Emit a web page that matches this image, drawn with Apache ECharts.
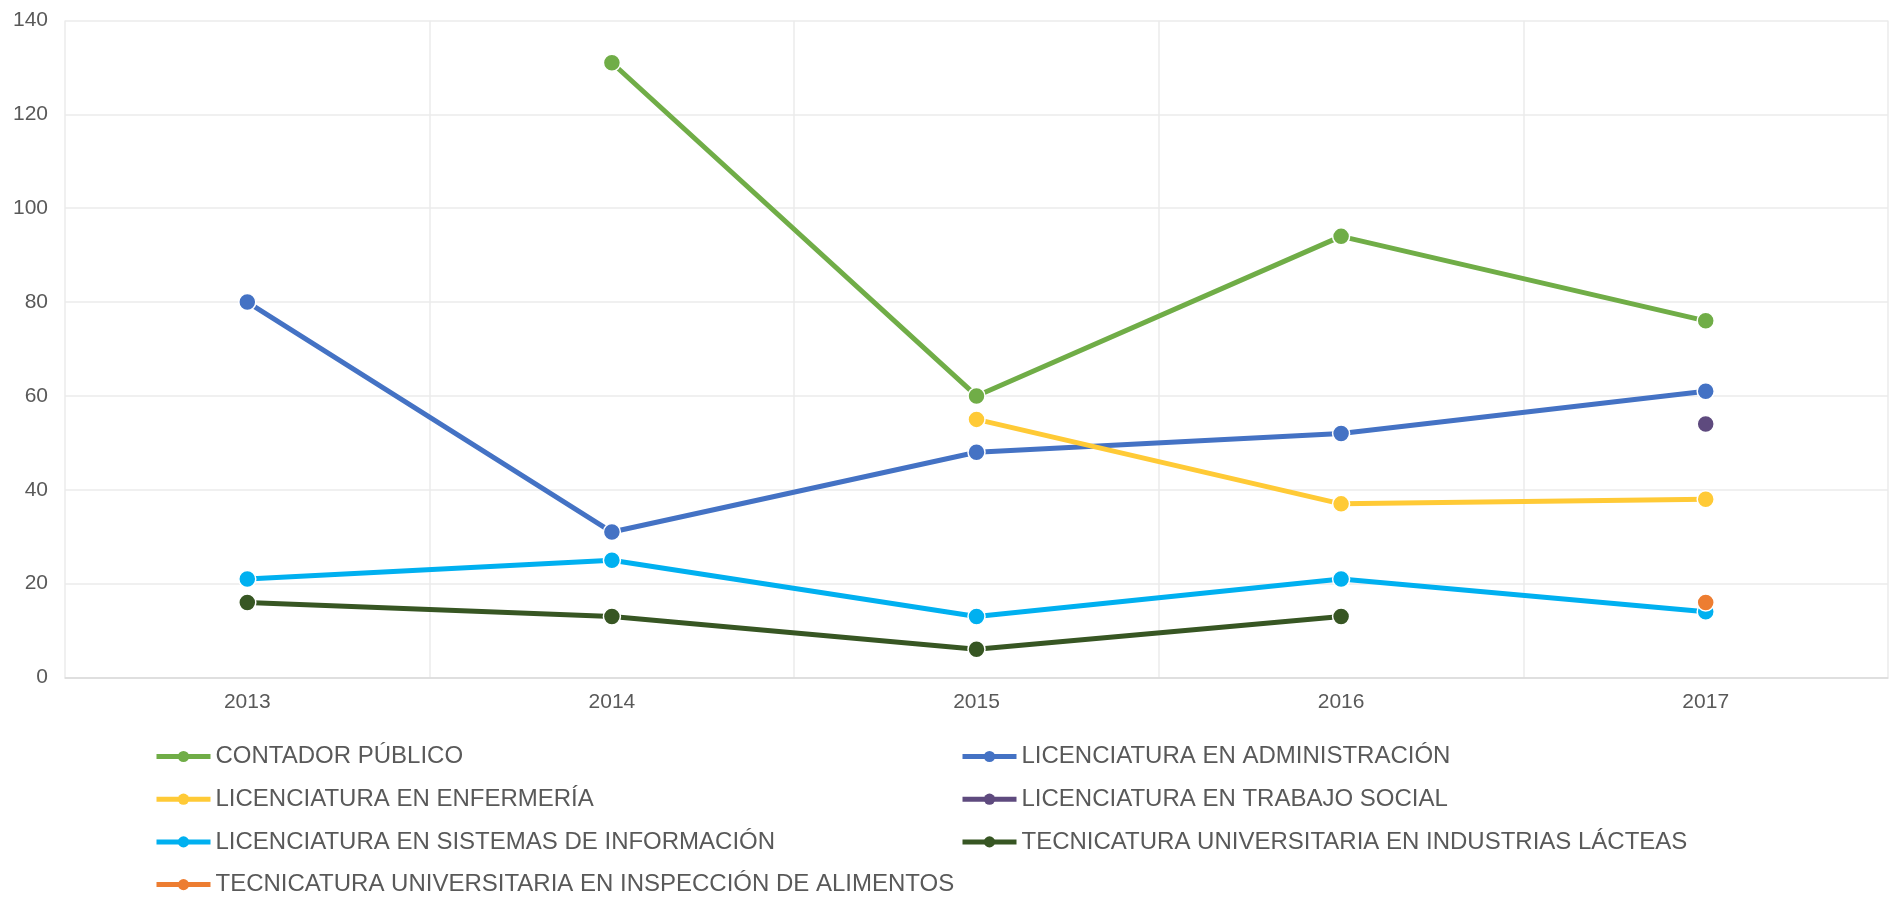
<!DOCTYPE html>
<html>
<head>
<meta charset="utf-8">
<script src="https://cdn.jsdelivr.net/npm/echarts@6/dist/echarts.min.js"></script>
<style>
  html, body { margin: 0; padding: 0; background: #fff; }
  #chart { width: 1890px; height: 897px; }
</style>
</head>
<body>
<div id="chart"></div>
<script>
const years = ['2013', '2014', '2015', '2016', '2017']
const yTicks = [0, 20, 40, 60, 80, 100, 120, 140]

const contador = [null, 131, 60, 94, 76]
const administracion = [80, 31, 48, 52, 61]
const enfermeria = [null, null, 55, 37, 38]
const trabajoSocial = [null, null, null, null, 54]
const sistemas = [21, 25, 13, 21, 14]
const lacteas = [16, 13, 6, 13, null]
const alimentos = [null, null, null, null, 16]

const names = [
  'CONTADOR PÚBLICO',
  'LICENCIATURA EN ADMINISTRACIÓN',
  'LICENCIATURA EN ENFERMERÍA',
  'LICENCIATURA EN TRABAJO SOCIAL',
  'LICENCIATURA EN SISTEMAS DE INFORMACIÓN',
  'TECNICATURA UNIVERSITARIA EN INDUSTRIAS LÁCTEAS',
  'TECNICATURA UNIVERSITARIA EN INSPECCIÓN DE ALIMENTOS'
]
const colors = ['#70ad47', '#4472c4', '#ffca36', '#5e4a7e', '#00b0f0', '#375623', '#ed7d31']
const values = [contador, administracion, enfermeria, trabajoSocial, sistemas, lacteas, alimentos]

const font = 'Liberation Sans, Arial, sans-serif'

function makeSeries(i) {
  return {
    name: names[i],
    type: 'line',
    data: values[i],
    symbol: 'circle',
    symbolSize: 17,
    connectNulls: false,
    lineStyle: { width: 5, color: colors[i] },
    itemStyle: { color: colors[i], borderColor: '#fff', borderWidth: 1.5 },
    emphasis: { disabled: true },
    animation: false
  }
}

// two legend columns, filled row by row like the original
const legendBase = {
  orient: 'vertical',
  top: 739.5,
  height: 200,
  itemWidth: 54,
  itemHeight: 14,
  itemGap: 18.7,
  lineStyle: { width: 5 },
  itemStyle: { borderWidth: 0 },
  textStyle: { fontFamily: font, fontSize: 24, color: '#595959' },
  selectedMode: false
}

const myChart = echarts.init(document.getElementById('chart'))
myChart.setOption({
  backgroundColor: '#fff',
  animation: false,
  grid: { left: 65, right: 2, top: 20.5, bottom: 219.5, containLabel: false },
  legend: [
    Object.assign({}, legendBase, { left: 149, data: [names[0], names[2], names[4], names[6]] }),
    Object.assign({}, legendBase, { left: 955, data: [names[1], names[3], names[5]] })
  ],
  xAxis: {
    type: 'category',
    data: years,
    boundaryGap: true,
    axisLine: { show: true, lineStyle: { color: '#d9d9d9', width: 1.5 } },
    axisTick: { show: false },
    axisLabel: { fontFamily: font, fontSize: 21, color: '#595959', margin: 14 },
    splitLine: { show: true, lineStyle: { color: '#ebebeb', width: 1.5 } }
  },
  yAxis: {
    type: 'value',
    min: yTicks[0],
    max: yTicks[yTicks.length - 1],
    interval: 20,
    axisLine: { show: false },
    axisTick: { show: false },
    axisLabel: { fontFamily: font, fontSize: 21, color: '#595959', margin: 17 },
    splitLine: { lineStyle: { color: '#ebebeb', width: 1.5 } }
  },
  series: names.map((n, i) => makeSeries(i))
})
window.addEventListener('resize', () => {
  myChart.resize()
})
</script>
</body>
</html>
